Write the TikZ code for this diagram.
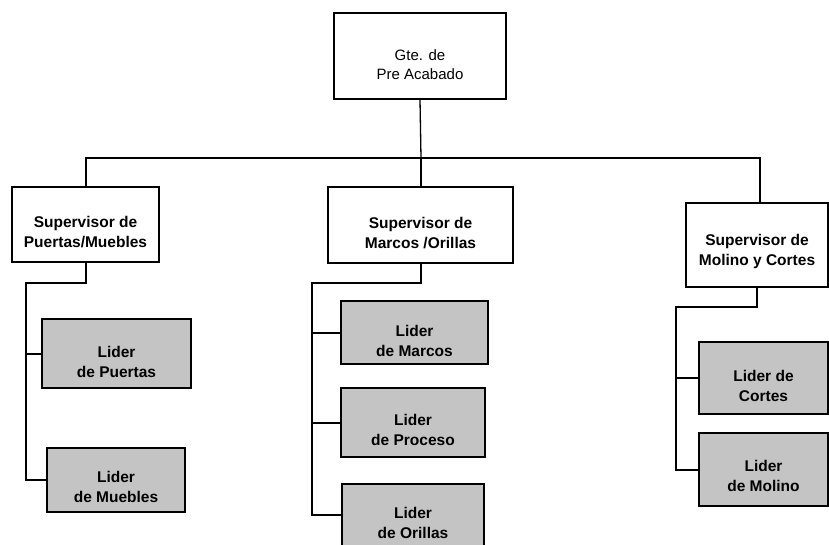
\documentclass[tikz,border=0pt]{standalone}
\usepackage{fontspec}
\setmainfont{Liberation Sans}
\definecolor{boxgray}{RGB}{196,196,196}
\begin{document}
\begin{tikzpicture}[x=1pt,y=-1pt,
  topbox/.style={draw=black, line width=1.1pt, fill=white, inner sep=0pt},
  supbox/.style={draw=black, line width=1.9pt, fill=white, inner sep=0pt},
  lidbox/.style={draw=black, line width=2pt, fill=boxgray, inner sep=0pt},
  toptxt/.style={align=center, inner sep=0pt, font=\fontsize{15}{19}\selectfont},
  boldtxt/.style={align=center, inner sep=0pt, font=\fontsize{15.5}{20}\selectfont\bfseries},
  conn/.style={draw=black, line width=2pt, line cap=rect},
]
\useasboundingbox (0,0) rectangle (829,545);
\clip (0,0) rectangle (829,545);

% top
\node[topbox, minimum width=172pt, minimum height=86pt,
  label={[toptxt, yshift=-9pt]center:Gte. de\\Pre Acabado}] (top) at (420,56) {};

% supervisors
\node[supbox, minimum width=147pt, minimum height=75pt,
  label={[boldtxt, yshift=-8pt]center:Supervisor de\\Puertas/Muebles}] (s1) at (85.5,224.5) {};
\node[supbox, minimum width=185pt, minimum height=76pt,
  label={[boldtxt, yshift=-8pt]center:Supervisor de\\Marcos /Orillas}] (s2) at (420.5,225) {};
\node[supbox, minimum width=142pt, minimum height=84pt,
  label={[boldtxt, yshift=-6pt]center:Supervisor de\\Molino y Cortes}] (s3) at (757,245) {};

% leaders
\node[lidbox, minimum width=149pt, minimum height=69pt,
  label={[boldtxt, yshift=-8pt]center:Lider\\de Puertas}] (l1) at (116.5,353.5) {};
\node[lidbox, minimum width=138pt, minimum height=64pt,
  label={[boldtxt, yshift=-7pt]center:Lider\\de Muebles}] (l2) at (116,480) {};
\node[lidbox, minimum width=147pt, minimum height=63pt,
  label={[boldtxt, yshift=-8pt]center:Lider\\de Marcos}] (m1) at (414.5,332.5) {};
\node[lidbox, minimum width=144pt, minimum height=69pt,
  label={[boldtxt, yshift=-7pt]center:Lider\\de Proceso}] (m2) at (413,422.5) {};
\node[lidbox, minimum width=142pt, minimum height=76pt,
  label={[boldtxt, yshift=-1pt]center:Lider\\de Orillas}] (m3) at (413,522) {};
\node[lidbox, minimum width=129pt, minimum height=72pt,
  label={[boldtxt, yshift=-8pt]center:Lider de\\Cortes}] (c1) at (763.5,378) {};
\node[lidbox, minimum width=129pt, minimum height=73pt,
  label={[boldtxt, yshift=-6pt]center:Lider\\de Molino}] (c2) at (763.5,469.5) {};

% top connectors
\coordinate (h1) at (86,158);
\coordinate (h2) at (421,158);
\coordinate (h3) at (760,158);
\draw[conn, line width=1.3pt] (top.south) -- (h2);
\draw[conn, line width=1.4pt] (h1) -- (h3);
\draw[conn] (h1) -- (h1 |- s1.north);
\draw[conn] (h2) -- (h2 |- s2.north);
\draw[conn] (h3) -- (h3 |- s3.north);

% group 1
\coordinate (b1) at (26,283);
\draw[conn] (s1.south) |- (b1) |- (l2.west);
\draw[conn] (b1 |- l1.west) -- (l1.west);

% group 2
\coordinate (b2) at (312,283);
\coordinate (e2) at (312,515);
\draw[conn] (s2.south) |- (b2) -- (e2) -- (e2 -| m3.west);
\draw[conn] (b2 |- m1.west) -- (m1.west);
\draw[conn] (b2 |- m2.west) -- (m2.west);

% group 3
\coordinate (b3) at (676,307);
\draw[conn] (s3.south) |- (b3) |- (c2.west);
\draw[conn] (b3 |- c1.west) -- (c1.west);
\end{tikzpicture}
\end{document}
